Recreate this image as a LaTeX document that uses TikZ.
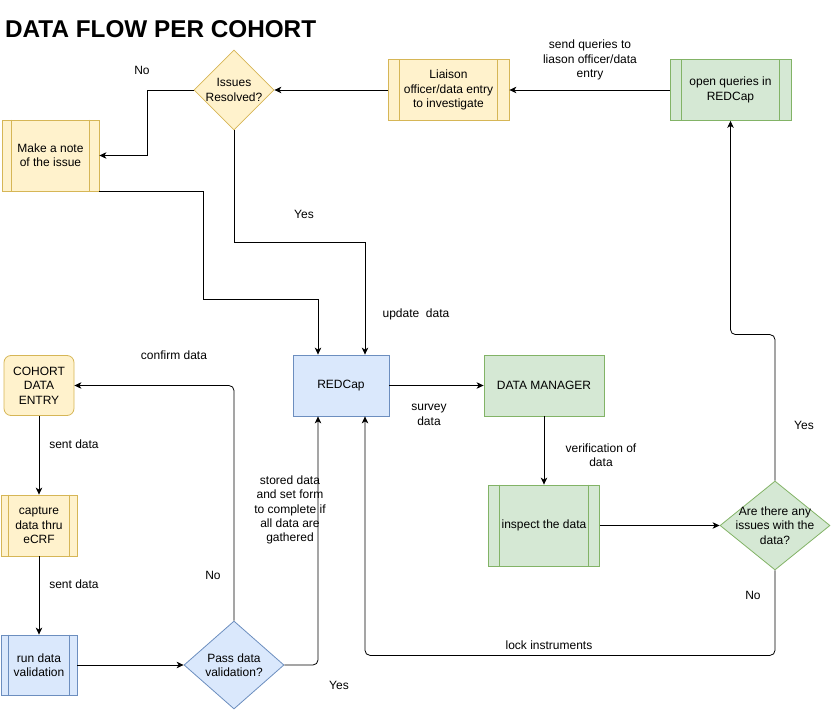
\documentclass[tikz,border=0pt]{standalone}
\usepackage{fontspec}
\setmainfont{Liberation Sans}
\usetikzlibrary{shapes.geometric,arrows.meta,calc}
\definecolor{yfill}{HTML}{FFF2CC}
\definecolor{ystroke}{HTML}{D6B656}
\definecolor{bfill}{HTML}{DAE8FC}
\definecolor{bstroke}{HTML}{6C8EBF}
\definecolor{gfill}{HTML}{D5E8D4}
\definecolor{gstroke}{HTML}{82B366}
\begin{document}
\begin{tikzpicture}[x=1pt,y=-1pt,
  every node/.style={font=\fontsize{12}{14.4}\selectfont, align=center, inner sep=0pt},
  box/.style={rectangle, draw, line width=0.8pt},
  ybox/.style={box, fill=yfill, draw=ystroke},
  bbox/.style={box, fill=bfill, draw=bstroke},
  gbox/.style={box, fill=gfill, draw=gstroke},
  dia/.style={diamond, draw, line width=0.8pt},
  arr/.style={draw, line width=0.8pt, -{Stealth[length=7pt,width=6.5pt,inset=2pt]}},
  lbl/.style={}
]
\useasboundingbox (0,0) rectangle (831,711);

\node[anchor=west, font=\fontsize{24.3}{29}\selectfont\bfseries] (title) at (5,29) {DATA FLOW PER COHORT};

% top row
\node[dia, fill=yfill, draw=ystroke, minimum width=80pt, minimum height=80pt,
      label={[align=center]center:Issues\\Resolved?}] (issues) at (234,90) {};
\node[ybox, minimum width=97pt, minimum height=71pt] (note) at (50.5,155.5) {Make a note\\of the issue};
\node[ybox, minimum width=121pt, minimum height=61pt] (liaison) at (448.5,90) {Liaison\\officer/data entry\\to investigate};
\node[gbox, minimum width=121pt, minimum height=61pt] (openq) at (730.5,90) {open queries in\\REDCap};

% middle
\node[bbox, minimum width=96pt, minimum height=61pt] (redcap) at (341,385.5) {REDCap};
\node[gbox, minimum width=120pt, minimum height=61pt] (dm) at (544,385.5) {DATA MANAGER};
\node[gbox, minimum width=111pt, minimum height=81pt] (inspect) at (544,525.5) {inspect the data};
\node[dia, fill=gfill, draw=gstroke, minimum width=110pt, minimum height=89pt,
      label={[align=center]center:Are there any\\issues with the\\data?}] (issuesq) at (775,525.5) {};

% left column
\node[ybox, rounded corners=7pt, minimum width=70pt, minimum height=60pt] (cohort) at (39,385.5) {COHORT\\DATA\\ENTRY};
\node[ybox, minimum width=76pt, minimum height=61pt] (capture) at (39,525.5) {capture\\data thru\\eCRF};
\node[bbox, minimum width=76pt, minimum height=60pt] (run) at (39,665) {run data\\validation};
\node[dia, fill=bfill, draw=bstroke, minimum width=100pt, minimum height=88pt,
      label={[align=center]center:Pass data\\validation?}] (pass) at (234,665) {};

% process side bars
\foreach \n/\c in {note/ystroke, liaison/ystroke, openq/gstroke, inspect/gstroke, capture/ystroke, run/bstroke}{
  \draw[\c, line width=0.8pt] ($(\n.north west)!0.1!(\n.north east)$) -- ($(\n.south west)!0.1!(\n.south east)$);
  \draw[\c, line width=0.8pt] ($(\n.north west)!0.9!(\n.north east)$) -- ($(\n.south west)!0.9!(\n.south east)$);
}

% connectors
\draw[arr] (liaison.west) -- (issues.east);
\draw[arr] (openq.west) -- (liaison.east);
\draw[arr] (issues.west) -- ++(-46,0) |- (note.east);
\draw[arr] (note.south east) -| (203,299) -| ([xshift=-23pt]redcap.north);
\draw[arr] (issues.south) -- ++(0,112) -| ([xshift=24pt]redcap.north);
\draw[arr] (redcap.east) -- (dm.west);
\draw[arr] (dm.south) -- (inspect.north);
\draw[arr] (inspect.east) -- (issuesq.west);
\draw[arr, rounded corners=5pt] (issuesq.north) -- ++(0,-146) -| (openq.south);
\draw[arr, rounded corners=5pt] (issuesq.south) -- ++(0,85) -| ([xshift=24pt]redcap.south);
\draw[arr] (cohort.south) -- (capture.north);
\draw[arr] (capture.south) -- (run.north);
\draw[arr] (run.east) -- (pass.west);
\draw[arr, rounded corners=5pt] (pass.north) |- (cohort.east);
\draw[arr, rounded corners=5pt] (pass.east) -| ([xshift=-23pt]redcap.south);

% labels
\node[lbl] (l1) at (142,70) {No};
\node[lbl] (l2) at (590,60) {send queries to\\liason officer/data\\entry};
\node[lbl] (l3) at (304,214) {Yes};
\node[lbl] (l4) at (416,314) {update\ \ data};
\node[lbl] (l5) at (429,415) {survey\\data};
\node[lbl] (l6) at (601,455) {verification of\\data};
\node[lbl] (l7) at (804,425) {Yes};
\node[lbl] (l8) at (753,595) {No};
\node[lbl] (l9) at (549,645) {lock instruments};
\node[lbl] (l10) at (174,355) {confirm data};
\node[lbl] (l11) at (213,575) {No};
\node[lbl] (l12) at (290,510) {stored data\\and set form\\to complete if\\all data are\\gathered};
\node[lbl] (l13) at (339,685) {Yes};
\node[lbl] (l14) at (74,444) {sent data};
\node[lbl] (l15) at (74,584) {sent data};
\end{tikzpicture}
\end{document}
